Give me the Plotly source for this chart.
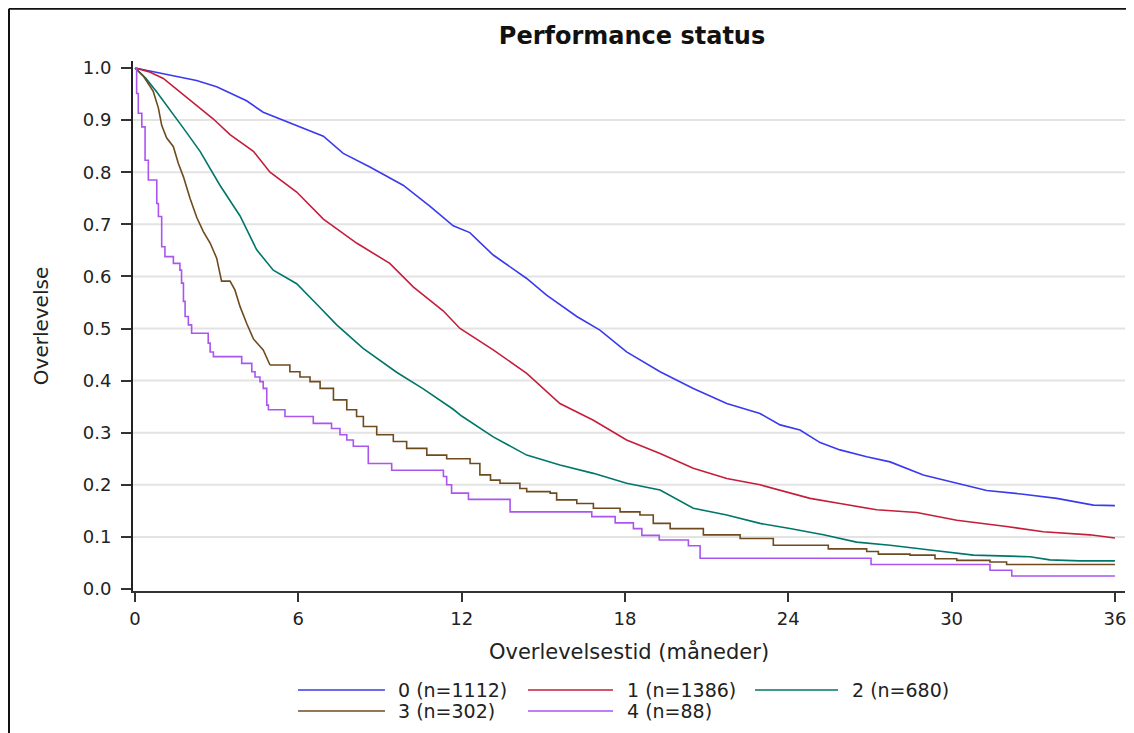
import plotly.graph_objects as go

# Kaplan-Meier survival by performance status
t0 = [0, 0.55, 1.5, 2.26, 3.0, 4.10, 4.71, 5.94, 6.92, 7.65, 8.63, 9.85, 10.83, 11.69,
      12.30, 13.16, 14.39, 15.12, 16.23, 17.08, 18.06, 19.29, 20.51, 21.74, 22.96, 23.70,
      24.43, 25.17, 25.90, 26.88, 27.74, 28.96, 30.19, 31.29, 32.63, 33.86, 35.21, 36]
s0 = [1.0, 0.994, 0.985, 0.976, 0.964, 0.937, 0.915, 0.889, 0.869, 0.836, 0.810, 0.775, 0.735, 0.697,
      0.684, 0.641, 0.596, 0.564, 0.523, 0.497, 0.455, 0.417, 0.385, 0.356, 0.337, 0.315,
      0.305, 0.281, 0.267, 0.254, 0.244, 0.219, 0.203, 0.189, 0.182, 0.174, 0.161, 0.160]

t1 = [0, 0.5, 1.04, 1.65, 2.88, 3.49, 4.35, 4.96, 5.94, 6.92, 8.14, 9.36, 10.22, 11.32, 11.94,
      13.16, 14.39, 15.61, 16.84, 18.06, 19.29, 20.51, 21.74, 22.96, 24.06, 24.80, 25.90,
      27.25, 28.72, 30.19, 32.02, 33.37, 35.08, 36]
s1 = [1.0, 0.993, 0.980, 0.954, 0.902, 0.872, 0.840, 0.800, 0.762, 0.710, 0.664, 0.625, 0.580, 0.534, 0.500,
      0.459, 0.414, 0.356, 0.324, 0.286, 0.260, 0.232, 0.212, 0.200, 0.185, 0.174, 0.164,
      0.152, 0.147, 0.132, 0.120, 0.110, 0.104, 0.098]

t2 = [0, 0.4, 0.80, 1.29, 1.77, 2.39, 3.12, 3.86, 4.47, 5.08, 5.94, 6.67, 7.41, 8.38, 9.61,
      10.59, 11.69, 12.0, 13.16, 14.39, 15.61, 16.84, 18.06, 19.29, 20.51, 21.74, 22.96,
      24.06, 25.29, 26.51, 27.74, 29.21, 30.80, 32.88, 33.61, 34.72, 36]
s2 = [1.0, 0.980, 0.954, 0.918, 0.885, 0.840, 0.775, 0.716, 0.651, 0.612, 0.586, 0.547, 0.507, 0.462, 0.416,
      0.384, 0.345, 0.332, 0.292, 0.257, 0.238, 0.222, 0.203, 0.190, 0.155, 0.142, 0.126,
      0.116, 0.104, 0.090, 0.084, 0.075, 0.065, 0.062, 0.056, 0.054, 0.054]

# group 3: dense early part (many tiny steps) and the sparse later step part
t3_early = [0, 0.3, 0.67, 0.86, 0.98, 1.16, 1.41, 1.59, 1.78, 2.02, 2.27, 2.51, 2.76, 3.0, 3.18,
            3.49, 3.67, 3.86, 4.10, 4.35, 4.71, 4.96]
s3_early = [1.0, 0.985, 0.955, 0.923, 0.890, 0.866, 0.849, 0.817, 0.791, 0.750, 0.713, 0.686, 0.664, 0.635, 0.591,
            0.591, 0.574, 0.542, 0.510, 0.480, 0.459, 0.430]
t3_late = [4.96, 5.69, 6.06, 6.43, 6.80, 7.29, 7.78, 8.14, 8.39,
           8.88, 9.49, 9.98, 10.72, 11.45, 12.31, 12.67, 13.06, 13.41, 14.14, 14.39, 15.25, 15.49,
           16.23, 16.84, 17.82, 18.55, 19.04, 19.66, 20.88, 22.23, 23.45, 25.47, 26.88, 27.31,
           28.47, 29.39, 30.19, 31.41, 32.02, 36]
s3_late = [0.430, 0.417, 0.407, 0.398, 0.385, 0.363, 0.344, 0.331, 0.312,
           0.296, 0.283, 0.270, 0.257, 0.250, 0.241, 0.219, 0.209, 0.203, 0.193, 0.187, 0.184, 0.171,
           0.164, 0.155, 0.148, 0.142, 0.126, 0.116, 0.104, 0.097, 0.084, 0.077, 0.072, 0.067,
           0.065, 0.058, 0.055, 0.052, 0.047, 0.047]

t4 = [0, 0.06, 0.12, 0.25, 0.37, 0.49, 0.80, 0.86, 0.98, 1.10, 1.41, 1.65, 1.71, 1.78, 1.84,
      1.96, 2.08, 2.69, 2.76, 2.88, 3.92, 4.29, 4.41, 4.59, 4.71, 4.84, 4.90, 5.51, 6.55,
      7.22, 7.53, 7.78, 8.02, 8.57, 9.43, 11.33, 11.45, 11.63, 12.25, 13.78, 16.78, 17.64,
      18.31, 18.62, 19.26, 20.33, 20.76, 27.04, 31.41, 32.21, 36]
s4 = [1.0, 0.951, 0.913, 0.887, 0.823, 0.785, 0.740, 0.715, 0.657, 0.638, 0.625, 0.612, 0.587, 0.552, 0.523,
      0.507, 0.491, 0.472, 0.455, 0.446, 0.433, 0.417, 0.407, 0.398, 0.385, 0.353, 0.344, 0.331, 0.318,
      0.308, 0.296, 0.286, 0.274, 0.241, 0.228, 0.216, 0.200, 0.184, 0.172, 0.148, 0.139, 0.127,
      0.116, 0.103, 0.094, 0.083, 0.059, 0.047, 0.036, 0.025, 0.025]

labels = ["0 (n=1112)", "1 (n=1386)", "2 (n=680)", "3 (n=302)", "4 (n=88)"]
colors = ["#3a3aee", "#c41e3a", "#00766a", "#6e4b1f", "#aa55f0"]

xticks = [0, 6, 12, 18, 24, 30, 36]
yticks = [0.0, 0.1, 0.2, 0.3, 0.4, 0.5, 0.6, 0.7, 0.8, 0.9, 1.0]

FONT = "DejaVu Sans"

traces = [
    (t0, s0, 0, "linear"),
    (t1, s1, 1, "linear"),
    (t2, s2, 2, "linear"),
    (t3_early, s3_early, 3, "linear"),
    (t3_late, s3_late, 3, "hv"),
    (t4, s4, 4, "hv"),
]

fig = go.Figure()
for tt, ss, g, ls in traces:
    fig.add_trace(go.Scatter(x=tt, y=ss, mode="lines", name=labels[g],
                             line=dict(color=colors[g], width=1.6, shape=ls)))

# light horizontal gridlines (none at 0.0 / 1.0)
shapes = []
for v in yticks[1:-1]:
    shapes.append(dict(type="line", xref="paper", yref="y", x0=0, x1=1, y0=v, y1=v,
                       line=dict(color="#e3e3e3", width=2), layer="below"))

# outer frame (only top and left edges visible in the crop)
shapes.append(dict(type="line", xref="paper", yref="paper", x0=-0.125, x1=1.03,
                   y0=1.0985, y1=1.0985, line=dict(color="#111", width=2)))
shapes.append(dict(type="line", xref="paper", yref="paper", x0=-0.125, x1=-0.125,
                   y0=1.0985, y1=-0.35, line=dict(color="#111", width=2)))

# custom legend with long line samples
annotations = []
cols_x = [(0.1663, 0.254, 0.2651), (0.3982, 0.4839, 0.496), (0.627, 0.7107, 0.7228)]
rows_y = [-0.1868, -0.2264]
for i, (name, col) in enumerate(zip(labels, colors)):
    r, c = divmod(i, 3)
    x0, x1, xl = cols_x[c]
    y = rows_y[r]
    shapes.append(dict(type="line", xref="paper", yref="paper", x0=x0, x1=x1, y0=y, y1=y,
                       line=dict(color=col, width=1.6)))
    annotations.append(dict(xref="paper", yref="paper", x=xl, y=y, text=name, showarrow=False,
                            xanchor="left", yanchor="middle",
                            font=dict(family=FONT, size=19, color="#222")))

fig.update_layout(
    width=1126, height=725,
    margin=dict(l=125, r=9, t=53, b=142),
    paper_bgcolor="white", plot_bgcolor="white",
    showlegend=False,
    title=dict(text="<b>Performance status</b>", x=0.5542, xanchor="center", y=0.9614, yanchor="middle",
               font=dict(family=FONT, size=24, color="#111")),
    font=dict(family=FONT, color="#222"),
    shapes=shapes, annotations=annotations,
    xaxis=dict(range=[-0.0735, 36.37], tickvals=xticks, ticktext=[str(v) for v in xticks],
               showgrid=False, zeroline=False, showline=True, linecolor="#333", linewidth=2,
               ticks="outside", ticklen=9, tickwidth=2, tickcolor="#333",
               tickfont=dict(family=FONT, size=18, color="#222"), ticklabelstandoff=1,
               title=dict(text="Overlevelsestid (måneder)", standoff=17,
                          font=dict(family=FONT, size=21, color="#222"))),
    yaxis=dict(range=[-0.0038, 1.0134], tickvals=yticks, ticktext=["%.1f" % v for v in yticks],
               showgrid=False, zeroline=False, showline=True, linecolor="#222", linewidth=2,
               ticks="outside", ticklen=10, tickwidth=2, tickcolor="#333",
               tickfont=dict(family=FONT, size=18, color="#222"), ticklabelstandoff=6,
               title=dict(text="Overlevelse", standoff=29,
                          font=dict(family=FONT, size=20, color="#222"))),
)

fig.write_html("out.html")
